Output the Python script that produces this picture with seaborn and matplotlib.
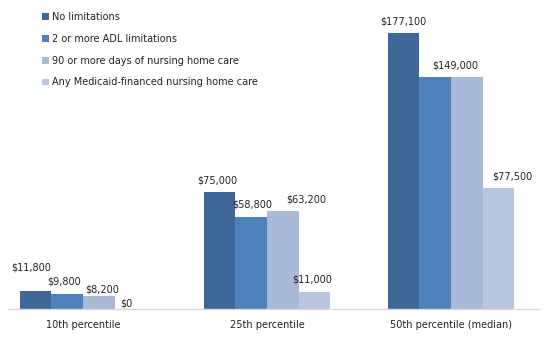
import matplotlib
matplotlib.use("Agg")
import matplotlib.pyplot as plt
import seaborn as sns
import pandas as pd

categories = ["10th percentile", "25th percentile", "50th percentile (median)"]
series = ["No limitations", "2 or more ADL limitations",
          "90 or more days of nursing home care",
          "Any Medicaid-financed nursing home care"]
no_limitations = [11800, 75000, 177100]
adl_limitations = [9800, 58800, 149000]
nursing_90_days = [8200, 63200, 149000]
medicaid_nursing = [0, 11000, 77500]
colors = ["#3F6899", "#4F81BD", "#A9BAD8", "#B9C7E1"]

rows = []
for s, vals in zip(series, [no_limitations, adl_limitations, nursing_90_days, medicaid_nursing]):
    for c, v in zip(categories, vals):
        rows.append({"category": c, "series": s, "value": v})
df = pd.DataFrame(rows)

sns.set_theme(style="white")
plt.rcParams["font.family"] = ["DejaVu Sans"]

fig = plt.figure(figsize=(5.48, 3.44), dpi=100)
ax = fig.add_axes([8 / 548, 35 / 344, 532 / 548, 309 / 344])

sns.barplot(data=df, x="category", y="value", hue="series", order=categories,
            hue_order=series, palette=colors, width=0.69, saturation=1,
            errorbar=None, ax=ax, linewidth=0)

# label offsets (dx, dy in points) mimicking the reference's placement
offsets = {
    (0, 0): (-3, 16.5), (1, 0): (-2.5, 8.6), (2, 0): (2.5, 5), (3, 0): (-3, 4.3),
    (0, 1): (-1.5, 8.6), (1, 1): (0.5, 9.4), (2, 1): (17, 8), (3, 1): (-2, 9.2),
    (0, 2): (0, 8.6), (1, 2): (14.4, 8), (2, 2): (0, 8), (3, 2): (10, 8.6),
}
hide = {(2, 2)}  # equal value drawn as one shared label in the reference
for si, container in enumerate(ax.containers):
    for ci, (bar, v) in enumerate(zip(container.patches, container.datavalues)):
        if (si, ci) in hide:
            continue
        dx, dy = offsets.get((si, ci), (0, 9))
        ax.annotate(f"${v:,.0f}", (bar.get_x() + bar.get_width() / 2, bar.get_height()),
                    xytext=(dx, dy), textcoords="offset points", ha="center",
                    va="center", fontsize=7, color="#222222")

ax.set_xlim(-0.408, 2.484)
ax.set_ylim(0, 198270)
ax.set_xlabel("")
ax.set_ylabel("")
ax.set_yticks([])
ax.tick_params(axis="x", length=0, pad=8, labelsize=7, colors="#222222")
for sp in ["left", "right", "top"]:
    ax.spines[sp].set_visible(False)
ax.spines["bottom"].set_color("#D9D9D9")
ax.spines["bottom"].set_linewidth(1)

leg = ax.legend(loc="upper left", bbox_to_anchor=(26 / 532, 1.0 - 4 / 309), frameon=False,
                fontsize=7, handlelength=0.7, handleheight=0.7, handletextpad=0.4,
                labelspacing=1.22, borderaxespad=0.4)
for t in leg.get_texts():
    t.set_color("#222222")

fig.savefig("out.png", dpi=100)
